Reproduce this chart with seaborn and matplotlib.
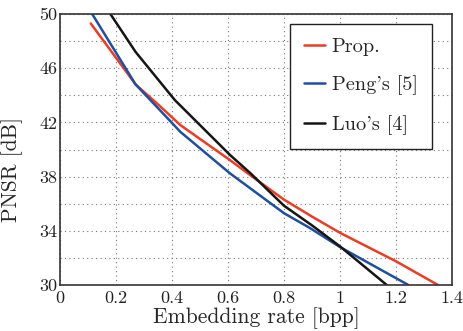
import matplotlib
matplotlib.use("Agg")
import matplotlib.pyplot as plt
import seaborn as sns
import pandas as pd

prop_x = [0.11, 0.27, 0.357, 0.43, 0.607, 0.68, 0.80, 0.90, 1.00, 1.10, 1.20, 1.35]
prop_y = [49.3, 44.8, 43.2, 41.8, 39.22, 38.1, 36.3, 35.05, 33.85, 32.8, 31.75, 30.0]
peng_x = [0.115, 0.27, 0.357, 0.43, 0.607, 0.80, 0.893, 1.00, 1.244]
peng_y = [50.0, 44.8, 42.9, 41.3, 38.24, 35.3, 34.2, 32.8, 30.0]
luo_x = [0.18, 0.27, 0.41, 0.607, 0.68, 0.80, 0.90, 1.00, 1.167]
luo_y = [50.0, 47.2, 43.65, 39.6, 38.25, 35.85, 34.4, 32.85, 30.0]
labels = ["Prop.", "Peng's [5]", "Luo's [4]"]
colors = ["#ee3b24", "#1f4fa0", "#151515"]

df = pd.concat([
    pd.DataFrame({"x": prop_x, "y": prop_y, "m": labels[0]}),
    pd.DataFrame({"x": peng_x, "y": peng_y, "m": labels[1]}),
    pd.DataFrame({"x": luo_x, "y": luo_y, "m": labels[2]}),
])

sns.set_theme(style="white")
plt.rcParams["font.family"] = "serif"
plt.rcParams["font.serif"] = ["cmr10", "DejaVu Serif"]
plt.rcParams["mathtext.fontset"] = "cm"
plt.rcParams["axes.formatter.use_mathtext"] = True

fig = plt.figure(figsize=(4.63, 3.31), dpi=100)
ax = fig.add_axes([60/463, 46/331, 392/463, 271/331])
sns.lineplot(data=df, x="x", y="y", hue="m", palette=colors, ax=ax,
             linewidth=1.8, sort=False, estimator=None)
ax.set_xlim(0, 1.4)
ax.set_ylim(30, 50)
ax.set_xticks([0, 0.2, 0.4, 0.6, 0.8, 1.0, 1.2, 1.4])
ax.set_xticklabels(["0", "0.2", "0.4", "0.6", "0.8", "1", "1.2", "1.4"])
ax.set_yticks([30, 32, 34, 36, 38, 40, 42, 44, 46, 48, 50])
ax.set_yticklabels(["30", "", "34", "", "38", "", "42", "", "46", "", "50"])
ax.grid(True, linestyle=(0, (1, 3)), color="#777777", linewidth=0.8)
ax.tick_params(labelsize=13, length=0, colors="#222222")
ax.tick_params(axis="x", pad=4)
ax.tick_params(axis="y", pad=2)
for s in ax.spines.values():
    s.set_color("#333333")
    s.set_linewidth(1.2)
ax.set_xlabel("Embedding rate [bpp]", fontsize=15.5, labelpad=1)
ax.set_ylabel("PNSR [dB]", fontsize=15.5, labelpad=3)
ax.yaxis.set_label_coords(-0.095, 0.425)
leg = ax.legend(loc="upper right", bbox_to_anchor=(0.949, 0.963), fontsize=14.6,
                handlelength=1.0, handletextpad=0.35, frameon=True, fancybox=False,
                borderaxespad=0, edgecolor="#222222", framealpha=1,
                borderpad=0.7, labelspacing=0.95)
leg.set_title(None)
leg.get_frame().set_linewidth(1.0)
fig.savefig("out.png", dpi=100)
